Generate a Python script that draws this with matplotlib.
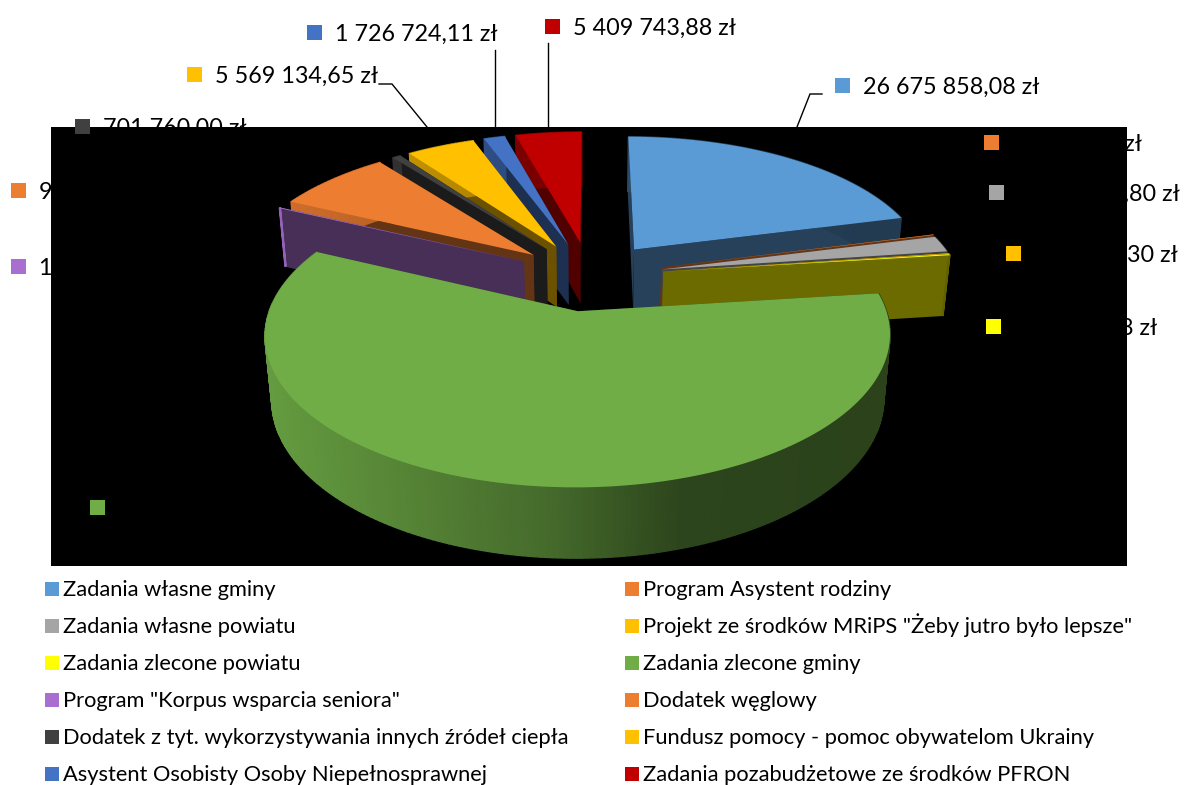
import numpy as np
import matplotlib
matplotlib.use("Agg")
import matplotlib.pyplot as plt
from matplotlib.patches import Polygon, Rectangle

# ---- data (values partly hidden in the reference are estimated from slice angles)
categories = ["Zadania własne gminy", "Program Asystent rodziny", "Zadania własne powiatu",
              "Projekt ze środków MRiPS \"Żeby jutro było lepsze\"", "Zadania zlecone powiatu",
              "Zadania zlecone gminy", "Program \"Korpus wsparcia seniora\"", "Dodatek węglowy",
              "Dodatek z tyt. wykorzystywania innych źródeł ciepła",
              "Fundusz pomocy - pomoc obywatelom Ukrainy",
              "Asystent Osobisty Osoby Niepełnosprawnej", "Zadania pozabudżetowe ze środków PFRON"]
values = [26675858.08, 84360.00, 2345678.80, 105000.30, 163456.78, 75200000.00,
          128500.00, 9412000.00, 701760.00, 5569134.65, 1726724.11, 5409743.88]
value_labels = ["26 675 858,08 zł", "84 360,00 zł", "2 345 678,80 zł", "105 000,30 zł",
                "163 456,78 zł", "75 200 000,00 zł", "128 500,00 zł", "9 412 000,00 zł",
                "701 760,00 zł", "5 569 134,65 zł", "1 726 724,11 zł", "5 409 743,88 zł"]
colors = ["#5B9BD5", "#ED7D31", "#A5A5A5", "#FFC000", "#FFFF00", "#70AD47",
          "#A86FD0", "#ED7D31", "#404040", "#FFC000", "#4472C4", "#C00000"]
# label marker centres (pixels of the figure)
label_pos = [(842, 85), (991, 142), (996, 192), (1013, 253), (993, 326), (97, 507),
             (18, 266), (18, 190), (82, 126), (194, 74), (314, 32), (552, 26)]
draw_order = [0, 1, 2, 3, 4, 11, 10, 9, 8, 7, 6, 5]

# ---- projection constants of the tilted pie
CX, CY, RX, KY, P, EXPL, DEPTH, Q = 590, 276, 297, 137.4, 0.152, 0.25, 63, 0.02
FONT = "Lato"
FS = 16.85
LEG_FS = 15.78

fig = plt.figure(figsize=(11.84, 7.85), dpi=100, facecolor="white")
ax = fig.add_axes([0, 0, 1, 1])
ax.set_xlim(0, 1184)
ax.set_ylim(785, 0)
ax.axis("off")


def proj(X, Y, bottom=False):
    X, Y = np.asarray(X, float), np.asarray(Y, float)
    w = 1 + P * Y + (Q if bottom else 0)
    d = DEPTH if bottom else 0
    return CX + RX * X / w, CY - (KY * Y - d) / w


def rgb(c, f):
    return tuple(np.array(matplotlib.colors.to_rgb(c)) * f)


ax.add_patch(Rectangle((51, 127), 1076, 439, fc="black", ec="none", zorder=2))

# leader lines
for xs, ys in [([797, 810, 822], [127, 94, 94]), ([379, 392, 427], [84, 84, 127]),
               ([495, 495], [50, 127]), ([548, 548], [43, 127])]:
    ax.plot(xs, ys, color="black", lw=1.0, zorder=1, solid_joinstyle="miter")

angles = np.concatenate([[0], np.cumsum(values)]) / np.sum(values) * 2 * np.pi
z = 3.0
CUT = 0.42
for i in draw_order:
    a0, a1 = angles[i], angles[i + 1]
    mid = (a0 + a1) / 2
    ax0, ay0 = EXPL * np.sin(mid), EXPL * np.cos(mid)
    t = np.linspace(a0, a1, max(4, int((a1 - a0) * 60)))
    X, Y = ax0 + np.sin(t), ay0 + np.cos(t)
    tx, ty = proj(X, Y)
    bx, by = proj(X, Y, True)
    atx, aty = proj(ax0, ay0)
    abx, aby = proj(ax0, ay0, True)
    # cut faces
    for k in (0, -1):
        ax.add_patch(Polygon([(atx, aty), (tx[k], ty[k]), (bx[k], by[k]), (abx, aby)],
                             closed=True, fc=rgb(colors[i], CUT), ec="none", zorder=z))
        z += 0.001
    # outer wall, shaded across the width of the pie
    for k in range(len(t) - 1):
        xm = (tx[k] + tx[k + 1]) / 2
        shade = np.interp(xm, [263, 418, 545, 680, 889], [0.90, 0.75, 0.62, 0.40, 0.38])
        col = rgb(colors[i], shade)
        ax.add_patch(Polygon([(tx[k], ty[k]), (tx[k + 1], ty[k + 1]), (bx[k + 1], by[k + 1]), (bx[k], by[k])],
                             closed=True, fc=col, ec=col, lw=1.0, zorder=z))
        z += 0.001
    # top face
    ax.add_patch(Polygon(np.column_stack([np.r_[atx, tx], np.r_[aty, ty]]), closed=True,
                         fc=colors[i], ec="none", zorder=z))
    z += 0.001

# data labels: black text, so it disappears on the black plot area
for lab, (mx, my), c in zip(value_labels, label_pos, colors):
    ax.add_patch(Rectangle((mx - 7.5, my - 7.5), 15, 15, fc=c, ec="none", zorder=20))
    ax.text(mx + 21, my + 2, lab, family=FONT, fontsize=FS, color="black",
            va="center", ha="left", zorder=21)

# legend: two columns, rows read left to right, fixed row pitch
LEG_X = [45, 625]
LEG_Y0, LEG_DY, LEG_BOX, LEG_GAP = 589, 37, 14, 3.8
for i, (name, c) in enumerate(zip(categories, colors)):
    lx = LEG_X[i % 2]
    ly = LEG_Y0 + LEG_DY * (i // 2)
    ax.add_patch(Rectangle((lx, ly - LEG_BOX / 2), LEG_BOX, LEG_BOX, fc=c, ec="none", zorder=20))
    ax.text(lx + LEG_BOX + LEG_GAP, ly + 7, name, family=FONT, fontsize=LEG_FS, color="black",
            va="baseline", ha="left", zorder=21)

fig.savefig("out.png", dpi=100, facecolor="white")
